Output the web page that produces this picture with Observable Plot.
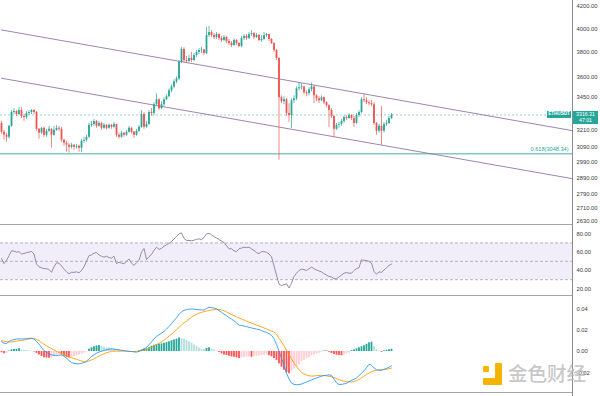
<!DOCTYPE html>
<html><head><meta charset="utf-8">
<script src="https://cdn.jsdelivr.net/npm/d3@7"></script>
<script src="https://cdn.jsdelivr.net/npm/@observablehq/plot@0.6"></script>
<style>
body{margin:0;background:#fff;}
#wrap{position:relative;width:600px;height:396px;overflow:hidden;font-family:"Liberation Sans",Arial,sans-serif;background:#fff;}
</style></head><body><div id="wrap"></div>
<script>
// ---------- data ----------
const symbol = "ETHUSDT";
const firstOpen = 3256;
const close = [
3193,3173,3159,3235,3334,3341,3319,3348,3305,3298,
3326,3334,3348,3334,3214,3187,3221,3173,3200,3214,
3173,3207,3221,3214,3139,3118,3105,3091,3105,3091,
3098,3085,3132,3139,3159,3242,3249,3270,3235,3256,
3221,3242,3221,3242,3228,3249,3173,3159,3187,3173,
3193,3221,3193,3173,3200,3228,3319,3228,3249,3334,
3326,3391,3428,3362,3391,3428,3450,3495,3525,3564,
3587,3717,3824,3733,3725,3750,3733,3774,3799,3815,
3820,3790,3942,3968,3942,3925,3951,3916,3899,3925,
3891,3874,3857,3899,3874,3849,3916,3934,3916,3951,
3959,3925,3942,3899,3908,3942,3951,3908,3874,3815,
3750,3443,3413,3428,3326,3312,3421,3435,3510,3518,
3525,3480,3472,3503,3525,3457,3435,3421,3443,3406,
3384,3348,3305,3214,3242,3249,3270,3298,3291,3312,
3291,3256,3312,3334,3428,3421,3406,3399,3391,3256,
3200,3235,3200,3249,3256,3291,3316.31];
const high = [
3270,3207,3187,3242,3348,3362,3348,3370,3370,3319,
3341,3348,3355,3355,3341,3221,3228,3228,3214,3235,
3221,3235,3242,3235,3228,3146,3132,3118,3118,3111,
3111,3105,3146,3159,3173,3256,3270,3284,3277,3270,
3263,3256,3249,3249,3249,3263,3249,3187,3200,3193,
3207,3235,3228,3200,3214,3242,3348,3334,3270,3348,
3362,3406,3472,3435,3413,3443,3465,3510,3541,3580,
3603,3733,3840,3840,3766,3774,3799,3790,3815,3832,
3840,3824,4011,4020,3985,3959,3968,3959,3934,3942,
3934,3908,3891,3916,3908,3882,3934,3951,3951,3968,
3985,3968,3959,3951,3942,3968,3959,3951,3916,3882,
3824,3758,3457,3450,3435,3399,3435,3457,3525,3556,
3549,3533,3495,3518,3556,3533,3465,3450,3457,3450,
3413,3391,3362,3312,3256,3263,3284,3312,3312,3326,
3319,3305,3326,3348,3443,3465,3443,3421,3421,3406,
3263,3249,3377,3263,3277,3305,3326];
const low = [
3180,3139,3125,3146,3228,3319,3305,3312,3291,3270,
3284,3312,3319,3319,3200,3146,3180,3159,3159,3193,
3085,3166,3200,3200,3125,3098,3058,3052,3078,3071,
3078,3058,3058,3118,3125,3152,3228,3235,3221,3228,
3207,3214,3207,3214,3214,3221,3159,3146,3152,3159,
3166,3187,3180,3152,3166,3193,3221,3214,3221,3242,
3305,3312,3384,3348,3355,3377,3421,3443,3480,3510,
3549,3572,3709,3717,3709,3717,3717,3725,3758,3782,
3790,3774,3782,3925,3925,3908,3908,3899,3882,3891,
3874,3857,3840,3849,3857,3840,3840,3899,3899,3908,
3934,3908,3916,3891,3882,3899,3925,3891,3866,3799,
3733,3005,3399,3391,3305,3263,3221,3399,3421,3495,
3503,3465,3450,3457,3488,3399,3413,3399,3413,3391,
3370,3228,3291,3159,3207,3221,3235,3256,3277,3284,
3277,3228,3249,3298,3326,3406,3391,3384,3377,3242,
3173,3187,3105,3187,3235,3249,3284];
const priceTicks = [4200,4000,3800,3600,3450,3210,3090,2990,2890,2790,2710,2630];
const fibLevel = 3048.34;
const fibName = "0.618";
const countdown = "47:01";
const channelIdx = [0, 228];
const channelUpper = [3990, 3206];
const channelLower = [3592, 2888];

const rsi = [
53,47.5,51,56,61.5,61,60,60.5,58,58.5,
59.5,60,60.7,58,47,44,43,42,42,41,
38,44,48.4,48,45,41.5,38.5,36.4,38,38,
38.5,37.5,40,44,50,56.3,57,59,59.5,57,
55.5,54.5,55.6,54,53.5,55.5,47.5,49,48,47.3,
50,52.5,48,45.5,48.5,51,60,64,52,55,
57.5,62,65.4,63,64,66.5,68,69.5,71.5,74.5,
77,80,81,75,72.7,72.7,72.5,73,74,74.5,
73.5,76,80,80.5,79,77,75.5,73.8,72,70.5,
67,63.6,63.6,61.5,60.5,63.6,64.5,65.4,65,65.4,
63.5,61.8,59.5,58.5,60.5,60.5,60,58,55,45,
35,25,23.6,24.5,25.5,21,26,33.5,37,40,
41.5,41,40,42,43.6,42,40.5,39.5,38.5,36.5,
35,33.5,33,31,31,33,35,37,37.8,37,
37,40,42,43,51.6,51.2,50.8,50,48,39,
36,38.5,38,40.5,43,45.5,47];
const rsiTicks = [80,60,40,20];
const rsiLevels = [70,50,30];

const macd = [
0.0092,0.0078,0.0075,0.0095,0.0106,0.0113,0.0118,0.0119,0.0119,0.0119,
0.0121,0.0124,0.0125,0.0118,0.0095,0.007,0.0038,0.0008,-0.0008,-0.0024,
-0.0032,-0.0035,-0.0038,-0.0035,-0.0033,-0.0045,-0.0064,-0.0085,-0.0105,-0.0112,
-0.0115,-0.0116,-0.0112,-0.0104,-0.0092,-0.0068,-0.0047,-0.0031,-0.0016,-0.0005,
0.0002,0.001,0.0016,0.0022,0.0025,0.0022,0.0019,0.0016,0.0012,0.0009,
0.0005,0.0002,0,-0.0004,-0.0006,0.0001,0.0013,0.0025,0.0038,0.0065,
0.009,0.012,0.0142,0.0158,0.0173,0.0189,0.0212,0.0236,0.0262,0.029,
0.0318,0.035,0.0374,0.0388,0.0396,0.0399,0.0401,0.0399,0.0396,0.0394,
0.0392,0.0391,0.0405,0.0416,0.0413,0.041,0.0403,0.0386,0.037,0.0352,
0.0337,0.032,0.0305,0.029,0.027,0.0249,0.0245,0.024,0.0235,0.0228,
0.0222,0.0217,0.0212,0.0206,0.0198,0.0188,0.018,0.0168,0.0153,0.012,
0.0068,0.0005,-0.0065,-0.013,-0.0205,-0.026,-0.0298,-0.031,-0.0313,-0.0312,
-0.0307,-0.0297,-0.0287,-0.0278,-0.0268,-0.0258,-0.025,-0.0241,-0.0233,-0.0227,
-0.0224,-0.022,-0.0225,-0.026,-0.0295,-0.0313,-0.031,-0.0306,-0.03,-0.0285,
-0.0272,-0.0262,-0.025,-0.0228,-0.0205,-0.0182,-0.0152,-0.012,-0.013,-0.0155,
-0.0171,-0.0177,-0.0178,-0.0168,-0.016,-0.0148,-0.0135];
const signal = [
0.0102,0.0097,0.0093,0.009,0.009,0.0094,0.0098,0.0102,0.0104,0.0108,
0.0113,0.0118,0.0124,0.0123,0.0113,0.0102,0.0085,0.0068,0.0054,0.004,
0.0028,0.0014,0.0001,-0.0009,-0.0019,-0.003,-0.0042,-0.0051,-0.0059,-0.0066,
-0.0073,-0.0082,-0.009,-0.0097,-0.0099,-0.0089,-0.0079,-0.0068,-0.0055,-0.0042,
-0.0031,-0.0021,-0.0012,-0.0005,0.0001,0.0003,0.0003,0.0003,0.0003,0.0003,
0.0002,0.0001,0,0,0.0002,0.0005,0.0008,0.001,0.0018,0.003,
0.0042,0.0052,0.0064,0.0078,0.0092,0.0105,0.0125,0.0145,0.0163,0.0184,
0.0206,0.0228,0.025,0.027,0.0288,0.0306,0.0322,0.0339,0.0352,0.0362,
0.0369,0.0376,0.0382,0.0387,0.0391,0.0394,0.0395,0.0395,0.0393,0.0385,
0.0373,0.0361,0.035,0.0338,0.0326,0.0316,0.0307,0.0297,0.0287,0.0276,
0.0268,0.0258,0.0249,0.0241,0.0232,0.0222,0.0212,0.0202,0.0193,0.0184,
0.0165,0.0125,0.009,0.0052,0.0012,-0.0028,-0.0068,-0.0108,-0.0142,-0.0172,
-0.0198,-0.0212,-0.0222,-0.0229,-0.0232,-0.0231,-0.0228,-0.0226,-0.0225,-0.0226,
-0.023,-0.0234,-0.0237,-0.0245,-0.0256,-0.0266,-0.0274,-0.028,-0.0284,-0.0287,
-0.0288,-0.0284,-0.0276,-0.0264,-0.0248,-0.0232,-0.0218,-0.0203,-0.0191,-0.0182,
-0.0177,-0.0174,-0.0172,-0.017,-0.0167,-0.0162,-0.0157];
const hist = [
-0.0012,-0.0022,-0.0018,0.0005,0.0016,0.0019,0.002,0.0025,0.0015,0.0011,
0.0008,0.0006,0.0002,-0.0005,-0.0018,-0.0032,-0.0047,-0.006,-0.0062,-0.0064,
-0.006,-0.0049,-0.0039,-0.0026,-0.0032,-0.0045,-0.0055,-0.0062,-0.0055,-0.0047,
-0.0042,-0.0035,-0.0025,-0.0016,-0.0006,0.0022,0.0035,0.0045,0.0052,0.0056,
0.0048,0.004,0.0035,0.0032,0.0027,0.0022,0.0017,0.0012,0.0008,0.0005,
0.0003,-0.0003,-0.0006,-0.0008,-0.0005,0.0004,0.0014,0.0022,0.0025,0.0035,
0.005,0.0058,0.0064,0.0069,0.0072,0.0078,0.0085,0.0092,0.0101,0.0108,
0.0116,0.0128,0.0122,0.0115,0.0105,0.0093,0.0079,0.0062,0.0047,0.0034,
0.0022,0.0018,0.0028,0.0035,0.0025,0.0014,0.0006,-0.0009,-0.0022,-0.0033,
-0.0038,-0.0045,-0.0051,-0.0055,-0.006,-0.0065,-0.0062,-0.0057,-0.0052,-0.0049,
-0.0055,-0.0049,-0.0045,-0.0042,-0.004,-0.0038,-0.0036,-0.0041,-0.005,-0.0065,
-0.0085,-0.0115,-0.0148,-0.0178,-0.0201,-0.021,-0.0185,-0.0165,-0.0143,-0.0125,
-0.0095,-0.0082,-0.007,-0.0058,-0.0042,-0.0032,-0.0024,-0.0016,-0.0008,0.0004,
0.0006,-0.0008,-0.0018,-0.0028,-0.0035,-0.0038,-0.004,-0.0032,-0.0022,-0.0013,
0.0008,0.0015,0.0025,0.0035,0.0045,0.0055,0.0068,0.0083,0.0088,0.0042,
0.0018,0.0005,-0.0008,0.0006,0.0011,0.0016,0.0022];
const macdTicks = [0.04,0.02,0.00,-0.02];
const watermark = "金色财经";

// ---------- styles ----------
const GREEN="#26a69a", RED="#ef5350";
const N = close.length;
const xScale = {domain:[0, N-1], range:[1, 391], axis:null};
const common = {width:600, marginLeft:0, marginRight:28, marginTop:0, marginBottom:0,
  style:{fontFamily:"Liberation Sans, Arial, sans-serif", fontSize:"6px", color:"#333", background:"transparent", overflow:"visible"}};
const axisOpts = {anchor:"right", tickSize:0, tickPadding:4, fontSize:5.8, fill:"#3a3a3a", label:null};

const rows = close.map((c,i)=>{
  const o = i ? close[i-1] : firstOpen;
  return {i, o, c, h: Math.max(high[i], o, c), l: Math.min(low[i], o, c)};
});
const chan = (arr)=>channelIdx.map((i,k)=>({i, p:arr[k]}));
const last = close[N-1];

const wrap = document.getElementById("wrap");
function put(el, top){ el.style.position="absolute"; el.style.left="0px"; el.style.top=top+"px"; wrap.appendChild(el); return el; }

// ---------- price panel ----------
const p1 = Plot.plot({...common, height:224,
  x: xScale,
  y: {type:"log", domain:[2600,4250], range:[226.3,0.43], label:null},
  marks:[
    Plot.ruleY([fibLevel], {stroke:"#80cbc4", strokeWidth:1.4}),
    Plot.ruleY([last], {stroke:"#80cbc4", strokeWidth:0.8, strokeDasharray:"2,2"}),
    Plot.line(chan(channelUpper), {x:"i", y:"p", stroke:"#9575a8", strokeWidth:0.9}),
    Plot.line(chan(channelLower), {x:"i", y:"p", stroke:"#9575a8", strokeWidth:0.9}),
    Plot.ruleX(rows, {x:"i", y1:"l", y2:"h", stroke:d=>d.c>=d.o?GREEN:RED, strokeWidth:0.7}),
    Plot.ruleX(rows, {x:"i", y1:"o", y2:"c", stroke:d=>d.c>=d.o?GREEN:RED, strokeWidth:1.8}),
    Plot.text([fibLevel], {y:d=>d, frameAnchor:"right", text:d=>`${fibName}(${d.toFixed(2)})`, dx:-4, dy:-4, textAnchor:"end", fill:GREEN, fontSize:5.6}),
    Plot.axisY({...axisOpts, ticks:priceTicks, tickFormat:d=>d.toFixed(2)})
  ]});
put(p1, 0);

// ---------- RSI panel ----------
const p2 = Plot.plot({...common, height:71,
  x: xScale,
  y: {domain:[10,90], range:[73.5,0.13], label:null},
  marks:[
    Plot.rectY([0], {y1:rsiLevels[2], y2:rsiLevels[0], fill:"#7e57c2", fillOpacity:0.1}),
    Plot.ruleY(rsiLevels, {stroke:"#a3a3ad", strokeWidth:0.8, strokeDasharray:"3,2"}),
    Plot.line(rsi, {x:(d,i)=>i, y:d=>d, stroke:"#8a7fa6", strokeWidth:0.9}),
    Plot.axisY({...axisOpts, ticks:rsiTicks, tickFormat:d=>d.toFixed(2)})
  ]});
put(p2, 224);

// ---------- MACD panel ----------
const hrows = hist.map((h,i)=>{
  const prev = i ? hist[i-1] : h;
  const col = h >= 0 ? (h >= prev ? "#26a69a" : "#b2dfdb") : (h <= prev ? "#ff5252" : "#ffcdd2");
  return {i, h, col};
});
const p3 = Plot.plot({...common, height:101,
  x: xScale,
  y: {domain:[-0.05,0.05], range:[109,3], label:null},
  marks:[
    Plot.ruleX(hrows, {x:"i", y1:0, y2:"h", stroke:"col", strokeWidth:1.8}),
    Plot.line(signal, {x:(d,i)=>i, y:d=>d, stroke:"#ff9800", strokeWidth:0.85}),
    Plot.line(macd, {x:(d,i)=>i, y:d=>d, stroke:"#2196f3", strokeWidth:0.85}),
    Plot.axisY({...axisOpts, ticks:macdTicks, tickFormat:d=>d.toFixed(2)})
  ]});
put(p3, 295);

// ---------- chrome ----------
function div(css, html){ const d=document.createElement("div"); d.style.cssText="position:absolute;"+css; if(html!=null) d.innerHTML=html; wrap.appendChild(d); return d; }
div("left:0;top:224px;width:572px;height:1px;background:#a4a4a4;");
div("left:0;top:295px;width:572px;height:1px;background:#a4a4a4;");
div("left:0;top:392px;width:572px;height:1px;background:#a4a4a4;");
div("left:572px;top:0;width:1px;height:396px;background:#8c8c8c;");

// price labels placed with the library's y scale
const yLast = p1.scale("y").apply(last);
div(`left:547px;top:${yLast-3.2}px;width:24px;height:6.5px;background:${GREEN};color:#fff;font:bold 4.6px 'Liberation Sans',Arial,sans-serif;line-height:6.5px;text-align:center;`, symbol);
div(`left:573px;top:${yLast-3.5}px;width:25px;height:12.5px;background:${GREEN};color:#fff;font:5.2px 'Liberation Sans',Arial,sans-serif;line-height:6px;text-align:center;padding-top:0.3px;`, `${last.toFixed(2)}<br>${countdown}`);

// watermark
div("left:495px;top:363px;width:7px;height:22px;background:#f5b400;border-radius:1px;");
div("left:483px;top:378px;width:19px;height:7px;background:#f5b400;border-radius:1px;");
div("left:483px;top:366px;width:6px;height:6px;background:#f5b400;border-radius:1px;");
div("left:508px;top:360px;color:rgba(185,185,185,0.8);font:500 19.5px 'Noto Sans CJK SC',sans-serif;letter-spacing:0px;line-height:26px;white-space:nowrap;", watermark);
</script></body></html>
